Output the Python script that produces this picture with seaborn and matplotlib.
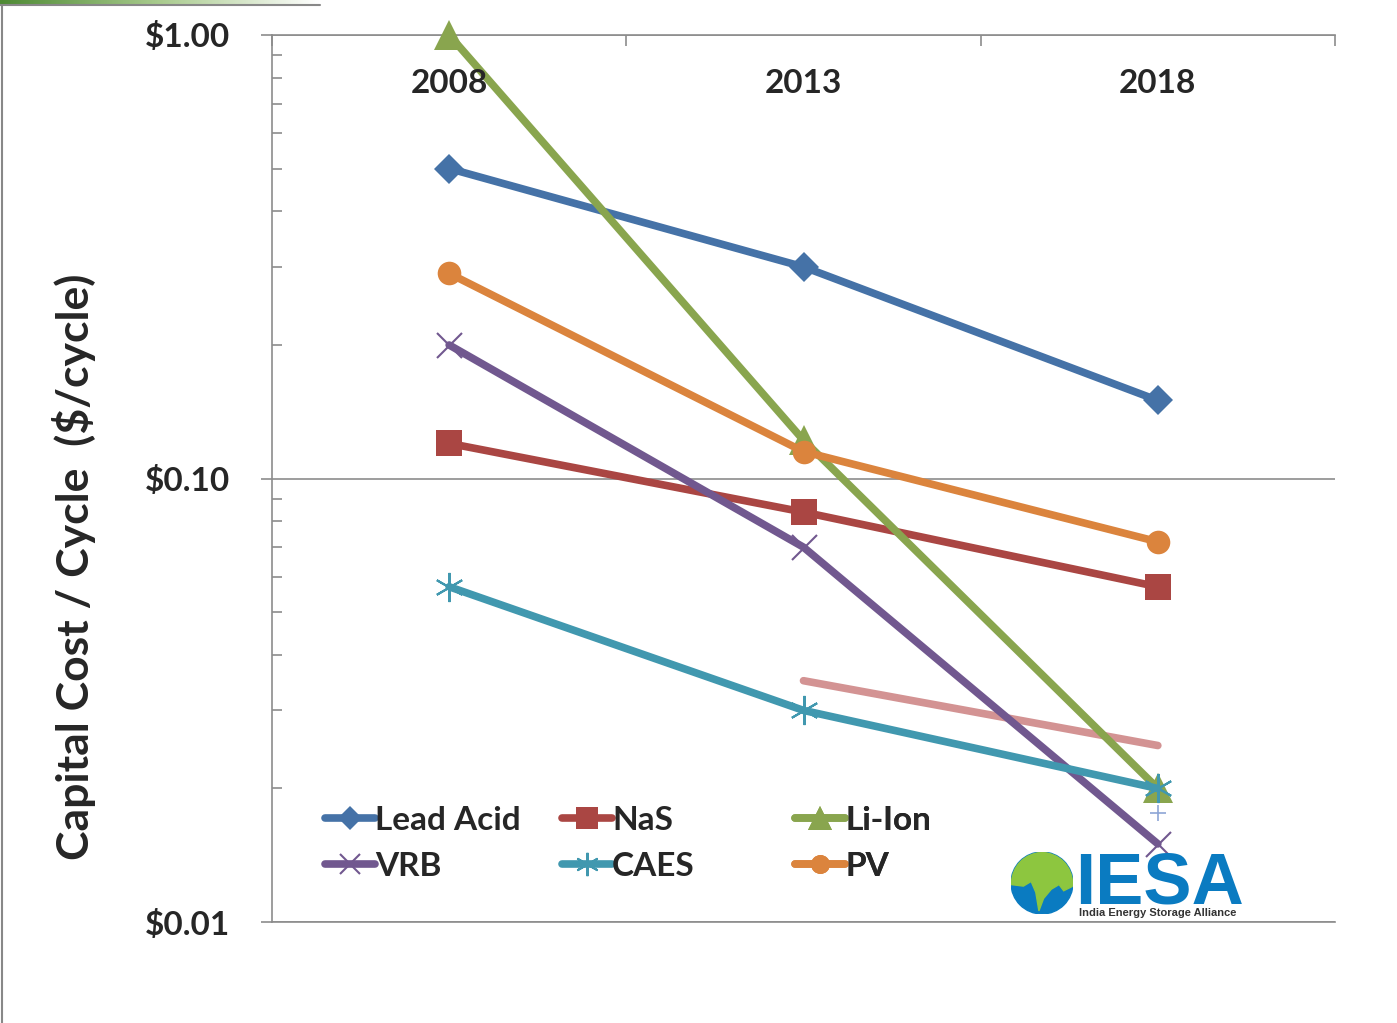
import numpy as np
import pandas as pd
import seaborn as sns
import matplotlib.pyplot as plt
from matplotlib.lines import Line2D
from matplotlib.patches import Circle, Polygon

# Capital cost per cycle ($/cycle)
years = ["2008", "2013", "2018"]
lead_acid = [0.50, 0.30, 0.150]
nas = [0.12, 0.084, 0.057]
li_ion = [1.00, 0.122, 0.020]
vrb = [0.20, 0.070, 0.015]
caes = [0.057, 0.030, 0.020]
pv = [0.29, 0.115, 0.072]
# stray pink line and "+" point that appear on the original slide
extra_line = [np.nan, 0.035, 0.025]
extra_point = [np.nan, np.nan, 0.0176]

sns.set_style("white")
plt.rcParams["font.family"] = ["Lato", "DejaVu Sans"]
plt.rcParams["font.weight"] = "bold"

fig = plt.figure(figsize=(13.97, 10.23), dpi=100)
ax = fig.add_axes([272 / 1397, 1 - 922 / 1023, (1335 - 272) / 1397, (922 - 35) / 1023])

xpos = np.arange(len(years))
series = [
    ("Lead Acid", lead_acid, "#4572A7", "D", 15, 0),
    ("NaS", nas, "#AA4643", "s", 19, 0),
    ("Li-Ion", li_ion, "#89A54E", "^", 22, 0),
    ("VRB", vrb, "#71588F", "x", 18, 1.5),
    ("CAES", caes, "#4198AF", (6, 2, 0), 21, 1.5),
    ("PV", pv, "#DB843D", "o", 17, 0),
]

handles = {}
for name, vals, color, mk, ms, mew in series:
    df = pd.DataFrame({"x": xpos, "y": vals}).dropna()
    sns.lineplot(data=df, x="x", y="y", ax=ax, color=color, linewidth=5.5,
                 marker=mk, markersize=ms, markeredgewidth=mew,
                 markeredgecolor=color, label=name, clip_on=False, zorder=3)
    handles[name] = ax.lines[-1]

df = pd.DataFrame({"x": xpos, "y": extra_line}).dropna()
sns.lineplot(data=df, x="x", y="y", ax=ax, color="#D39393", linewidth=5.5,
             solid_capstyle="round", zorder=2, legend=False)
df = pd.DataFrame({"x": xpos, "y": extra_point}).dropna()
ax.plot(df["x"], df["y"], linestyle="none", marker="+", markersize=11,
        markeredgewidth=1.2, color="#8EA6D6", zorder=4)

ax.set_yscale("log")
ax.set_ylim(0.01, 1.0)
ax.set_xlim(-0.5, 2.5)

gray = "#8C8C8C"
for side in ["left", "top", "bottom"]:
    ax.spines[side].set_color(gray)
    ax.spines[side].set_linewidth(1.2)
ax.spines["right"].set_visible(False)

ax.set_yticks([0.01, 0.1, 1.0])
ax.set_yticklabels(["$0.01", "$0.10", "$1.00"])
ax.tick_params(axis="y", which="major", direction="out", length=8, width=1.2,
               color=gray, pad=22, labelsize=24, left=True)
ax.tick_params(axis="y", which="minor", direction="in", length=7, width=1.2,
               color=gray, left=True)
ax.yaxis.grid(True, which="major", color=gray, linewidth=1.2)
ax.xaxis.grid(False)

ax.xaxis.tick_top()
ax.set_xticks([-0.5, 0.5, 1.5, 2.5])
ax.set_xticklabels([])
ax.tick_params(axis="x", which="major", direction="in", length=8, width=1.2,
               color=gray, top=True, bottom=False)
ax.set_xlabel("")
for i, yr in enumerate(years):
    ax.text(xpos[i], 0.945, yr, transform=ax.get_xaxis_transform(),
            ha="center", va="center", fontsize=24, fontweight="bold")

ax.set_ylabel("Capital Cost / Cycle  ($/cycle)", fontsize=32, fontweight="bold")
ax.yaxis.set_label_coords(-0.166, 0.401)

ax.legend().remove()
cols = [(["Lead Acid", "VRB"], 0.0499), (["NaS", "CAES"], 0.2728), (["Li-Ion", "PV"], 0.492)]
for names, xa in cols:
    leg = ax.legend([handles[n] for n in names], names, loc="upper left",
                    bbox_to_anchor=(xa, 0.1307), frameon=False, fontsize=24,
                    handlelength=1.5, handletextpad=0.0, borderpad=0,
                    borderaxespad=0, labelspacing=0.51, markerscale=0.8)
    for t in leg.get_texts():
        t.set_fontweight("bold")
    ax.add_artist(leg)

# IESA logo
lax = fig.add_axes([1011 / 1397, 1 - 914 / 1023, 62 / 1397, 62 / 1023])
lax.set_xlim(-1, 1)
lax.set_ylim(-1, 1)
lax.set_aspect("equal")
lax.axis("off")
circ = Circle((0, 0), 1, color="#0A7BC1")
lax.add_patch(circ)
land = Polygon([(-1, 1), (1, 1), (1, -0.1), (0.7, -0.25), (0.55, -0.05), (0.3, -0.2),
                (0.05, -0.5), (-0.1, -0.9), (-0.2, -0.3), (-0.35, 0.05), (-0.6, -0.1),
                (-1, -0.05)], color="#8DC63F")
lax.add_patch(land)
land.set_clip_path(circ)
fig.text(1075 / 1397, 1 - 904 / 1023, "IESA", fontsize=52, fontweight="bold",
         color="#0A7BC1", family=["Liberation Sans", "DejaVu Sans"], ha="left",
         va="baseline")
fig.text(1079 / 1397, 1 - 913 / 1023, "India Energy Storage Alliance", fontsize=8,
         fontweight="bold", color="#333333", family=["Liberation Sans", "DejaVu Sans"],
         ha="left", va="center")

# slide frame
fig.add_artist(Line2D([2 / 1397, 2 / 1397], [0, 1 - 5 / 1023], transform=fig.transFigure,
                      color="#888888", linewidth=1.5))
fig.add_artist(Line2D([0, 320 / 1397], [1 - 5 / 1023, 1 - 5 / 1023], transform=fig.transFigure,
                      color="#888888", linewidth=1.5))
gax = fig.add_axes([0, 1 - 4 / 1023, 320 / 1397, 4 / 1023])
gax.imshow(np.linspace(0, 1, 200)[None, :], aspect="auto",
           cmap=sns.blend_palette(["#4E8A34", "#A9CB8E", "#FFFFFF"], as_cmap=True))
gax.axis("off")

fig.savefig("out.png", dpi=100)
